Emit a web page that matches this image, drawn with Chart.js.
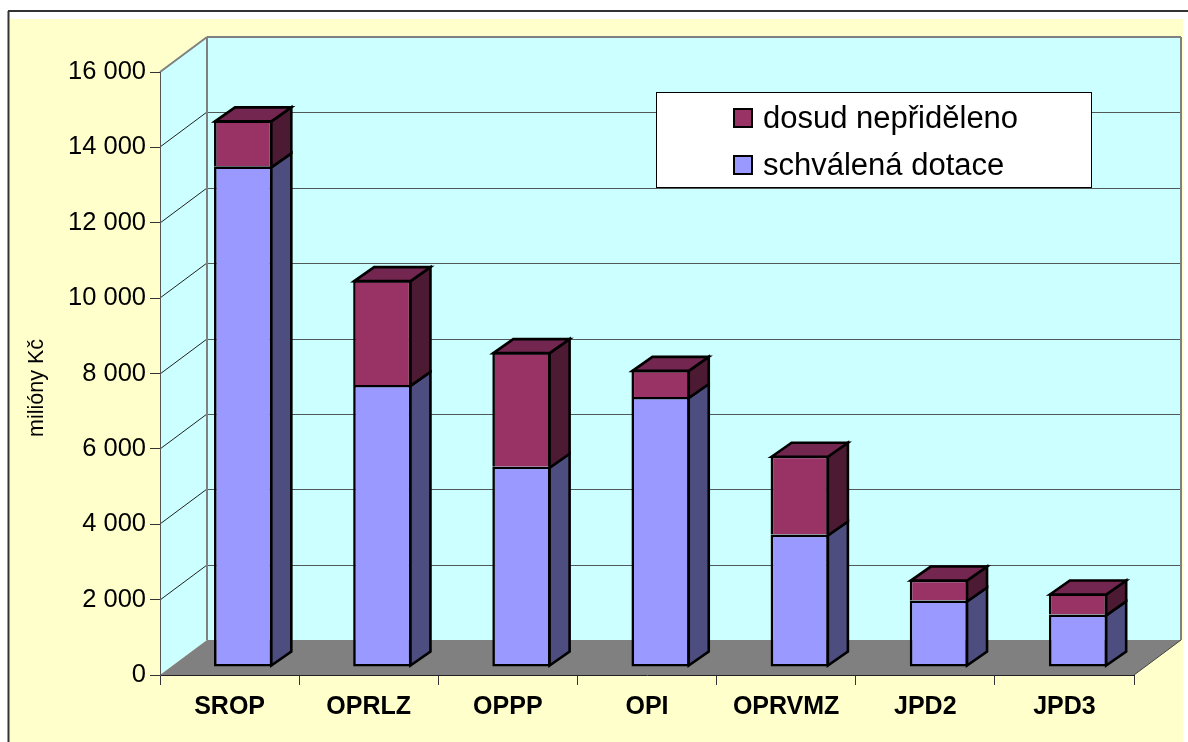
<!DOCTYPE html>
<html>
<head>
<meta charset="utf-8">
<style>
body { margin: 0; background: #fff; }
canvas { display: block; }
</style>
<script src="https://cdn.jsdelivr.net/npm/chart.js@4/dist/chart.umd.min.js"></script>
</head>
<body>
<canvas id="dotaceChart" width="1188" height="742"></canvas>
<script>
// values (miliony Kc)
var categories = ["SROP", "OPRLZ", "OPPP", "OPI", "OPRVMZ", "JPD2", "JPD3"];
var schvalena = [13285, 7485, 5315, 7165, 3515, 1765, 1395];
var nepridleno = [1220, 2780, 3040, 720, 2090, 555, 555];
var yTicks = [0, 2000, 4000, 6000, 8000, 10000, 12000, 14000, 16000];

var axisTitle = "milióny Kč";
var seriesNames = ["schválená dotace", "dosud nepřiděleno"];

// depth of the fake 3D box
var wallX = 47, wallY = 35;
var barShiftX = 13.6, barShiftY = 8;
var depthX = 20, depthY = 14;
var barLine = 2.6;

var sideColors = ["#4d4d80", "#4d1a33"];
var topColor = "#732650";

function polygon(ctx, pts, fill, stroke, lw) {
    ctx.beginPath();
    ctx.moveTo(pts[0][0], pts[0][1]);
    for (var i = 1; i < pts.length; i++) {
        ctx.lineTo(pts[i][0], pts[i][1]);
    }
    ctx.closePath();
    if (fill) {
        ctx.fillStyle = fill;
        ctx.fill();
    }
    if (stroke) {
        ctx.strokeStyle = stroke;
        ctx.lineWidth = lw;
        ctx.lineJoin = "miter";
        ctx.stroke();
    }
}

function line(ctx, x1, y1, x2, y2, color, lw) {
    ctx.beginPath();
    ctx.moveTo(x1, y1);
    ctx.lineTo(x2, y2);
    ctx.strokeStyle = color;
    ctx.lineWidth = lw;
    ctx.stroke();
}

// page frame, walls, floor and gridlines, all hung off the chart scales
var wallsPlugin = {
    id: "walls",
    beforeDraw: function(chart) {
        var ctx = chart.ctx;
        var left = chart.scales.x.left, right = chart.scales.x.right;
        var y = chart.scales.y;
        var y0 = y.getPixelForValue(0), yTop = y.getPixelForValue(16000);

        ctx.save();
        ctx.fillStyle = "#ffffcc";
        ctx.fillRect(10, 19, 1173, 723);
        line(ctx, 8.5, 11, 8.5, 742, "#333", 2);
        line(ctx, 8, 11, 1188, 11, "#333", 2);

        polygon(ctx, [[left + wallX, yTop - wallY], [right + wallX, yTop - wallY], [right + wallX, y0 - wallY], [left + wallX, y0 - wallY]], "#ccffff");
        polygon(ctx, [[left, y0], [left, yTop], [left + wallX, yTop - wallY], [left + wallX, y0 - wallY]], "#ccffff");

        yTicks.forEach(function(v) {
            if (v === 0 || v === 16000) return;
            var py = Math.round(y.getPixelForValue(v));
            line(ctx, left, py, left + wallX, py - wallY, "#222", 1);
            line(ctx, left + wallX, py - wallY + 0.5, right + wallX, py - wallY + 0.5, "#505858", 1);
        });

        polygon(ctx, [[left, y0], [left + wallX, y0 - wallY], [right + wallX, y0 - wallY], [right, y0]], "#808080");
        line(ctx, right, y0, right + wallX, y0 - wallY, "#444", 1);

        // grey frame of the walls
        line(ctx, left, yTop, left + wallX, yTop - wallY, "#808080", 2);
        line(ctx, left + wallX, yTop - wallY, right + wallX, yTop - wallY, "#808080", 2);
        line(ctx, left + wallX, yTop - wallY, left + wallX, y0 - wallY, "#808080", 2);
        line(ctx, right + wallX, yTop - wallY, right + wallX, y0 - wallY, "#808080", 2);
        ctx.restore();
    },
    beforeDatasetsDraw: function(chart) {
        chart.ctx.save();
        chart.ctx.translate(barShiftX, -barShiftY);
    },
    afterDatasetsDraw: function(chart) {
        var ctx = chart.ctx;
        chart.data.datasets.forEach(function(ds, d) {
            chart.getDatasetMeta(d).data.forEach(function(bar) {
                // borders are drawn inside the bar, so go to the middle of the border
                var r = bar.x + bar.width / 2 - 1, l = bar.x - bar.width / 2 + 1;
                var t = bar.y + 1, b = bar.base - 1;
                if (d > 0) b = bar.base + 1;
                polygon(ctx, [[r, b], [r + depthX, b - depthY], [r + depthX, t - depthY], [r, t]], sideColors[d], "#000", barLine);
                if (d === chart.data.datasets.length - 1) {
                    polygon(ctx, [[l, t], [l + depthX, t - depthY], [r + depthX, t - depthY], [r, t]], topColor, "#000", barLine);
                }
            });
        });
        ctx.restore();
    },
    afterDraw: function(chart) {
        var ctx = chart.ctx;
        ctx.save();

        // y axis title
        ctx.translate(37, 388);
        ctx.rotate(-Math.PI / 2);
        ctx.fillStyle = "#000";
        ctx.font = "21.5px 'Liberation Sans'";
        ctx.textAlign = "center";
        ctx.textBaseline = "middle";
        ctx.fillText(axisTitle, 0, 0);
        ctx.setTransform(1, 0, 0, 1, 0, 0);

        // legend box, top series first like in the original
        ctx.fillStyle = "#fff";
        ctx.fillRect(657, 93, 434, 94);
        ctx.strokeStyle = "#000";
        ctx.lineWidth = 1;
        ctx.strokeRect(656.5, 92.5, 435, 95);
        var rows = [118, 165];
        ctx.font = "31px 'Liberation Sans'";
        ctx.textAlign = "left";
        ctx.textBaseline = "middle";
        var n = chart.data.datasets.length;
        rows.forEach(function(rowY, i) {
            var ds = chart.data.datasets[n - 1 - i];
            ctx.fillStyle = ds.backgroundColor;
            ctx.fillRect(734, rowY - 9, 18, 18);
            ctx.strokeStyle = "#000";
            ctx.lineWidth = 2;
            ctx.strokeRect(734, rowY - 9, 18, 18);
            ctx.fillStyle = "#000";
            ctx.fillText(ds.label, 763, rowY + 1.5);
        });
        ctx.restore();
    }
};

var config = {
    type: "bar",
    data: {
        labels: categories,
        datasets: [
            {
                label: seriesNames[0],
                data: schvalena,
                backgroundColor: "#9999ff",
                borderWidth: { top: barLine, left: barLine, right: barLine, bottom: barLine }
            },
            {
                label: seriesNames[1],
                data: nepridleno,
                backgroundColor: "#993366",
                borderWidth: { top: barLine, left: barLine, right: barLine, bottom: 0 }
            }
        ]
    },
    options: {
        responsive: false,
        animation: false,
        layout: { padding: { top: 72, right: 54, left: 0, bottom: 0 } },
        datasets: {
            bar: {
                borderColor: "#000",
                borderSkipped: false,
                barPercentage: 0.419,
                categoryPercentage: 1,
                clip: false
            }
        },
        plugins: {
            legend: { display: false },
            title: { display: false },
            tooltip: { enabled: false }
        },
        scales: {
            x: {
                stacked: true,
                afterFit: function(scale) { scale.height = 67; },
                grid: { drawOnChartArea: false, drawTicks: true, tickLength: 10, color: "#333" },
                border: { color: "#222", width: 1 },
                ticks: {
                    color: "#000",
                    padding: 7,
                    maxRotation: 0,
                    font: { family: "'Liberation Sans'", size: 25, weight: "bold" }
                }
            },
            y: {
                stacked: true,
                min: 0,
                max: 16000,
                afterFit: function(scale) { scale.width = 160; },
                afterBuildTicks: function(scale) {
                    scale.ticks = yTicks.map(function(v) { return { value: v }; });
                },
                grid: { drawOnChartArea: false, drawTicks: true, tickLength: 10, color: "#333" },
                border: { color: "#555", width: 1 },
                ticks: {
                    color: "#000",
                    padding: 4,
                    font: { family: "'Liberation Sans'", size: 25.5 },
                    callback: function(value) {
                        return String(value).replace(/\B(?=(\d{3})+$)/g, " ");
                    }
                }
            }
        }
    },
    plugins: [wallsPlugin]
};

var dotaceCtx = document.getElementById("dotaceChart");
var dotaceChart = new Chart(dotaceCtx, config);
</script>
</body>
</html>
